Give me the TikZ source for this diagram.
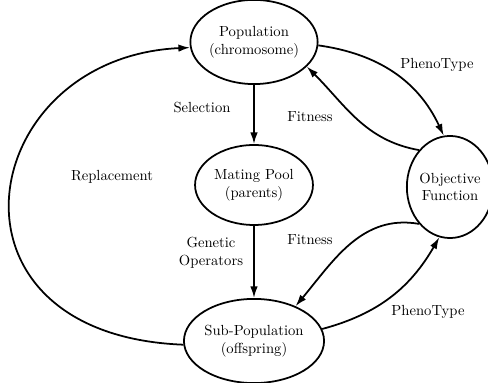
\documentclass[tikz,border=0pt]{standalone}
\usepackage{amsmath}
\usepackage{tikz}
\usetikzlibrary{shapes.geometric,arrows.meta}

\begin{document}
\begin{tikzpicture}[x=0.024cm, y=0.024cm, line width=1.2pt,
  stage/.style={ellipse, draw, inner sep=0pt, align=center},
  flow/.style={-{Latex[length=2.8mm, width=1.8mm]}}]
\useasboundingbox (0,0) rectangle (488,383);
\node[stage, minimum width=2.83cm, minimum height=2.02cm] (pop) at (254,341) {Population\\(chromosome)};
\node[stage, minimum width=2.83cm, minimum height=1.92cm] (mate) at (254,198) {Mating Pool\\(parents)};
\node[stage, minimum width=2.88cm, minimum height=2.02cm] (sub) at (254,42) {Sub-Population\\(offspring)};
\node[stage, minimum width=1.82cm, minimum height=2.45cm] (obj) at (450,196) {Objective\\Function};

\node (selection) at (202,275) {Selection};
\node (fitA) at (310,266) {Fitness};
\node (phenoA) at (437,318) {PhenoType};
\node (replace) at (112,206) {Replacement};
\node[align=center] (genop) at (211,130) {Genetic\\Operators};
\node (fitB) at (310,143) {Fitness};
\node (phenoB) at (428,71) {PhenoType};

\draw[flow] (pop) -- (mate);
\draw[flow] (mate) -- (sub);
\draw[flow] (sub.183) .. controls +(-255,10) and +(-215,-10) .. (pop.185);
\draw[flow] (pop.-3) to[out=-8, in=115] (obj.97);
\draw[flow] (obj.130) to[out=170, in=-45] (pop.-25);
\draw[flow] (obj.230) to[out=170, in=50] (sub.40);
\draw[flow] (sub.10) to[out=15, in=-120] (obj.-102);
\end{tikzpicture}
\end{document}
